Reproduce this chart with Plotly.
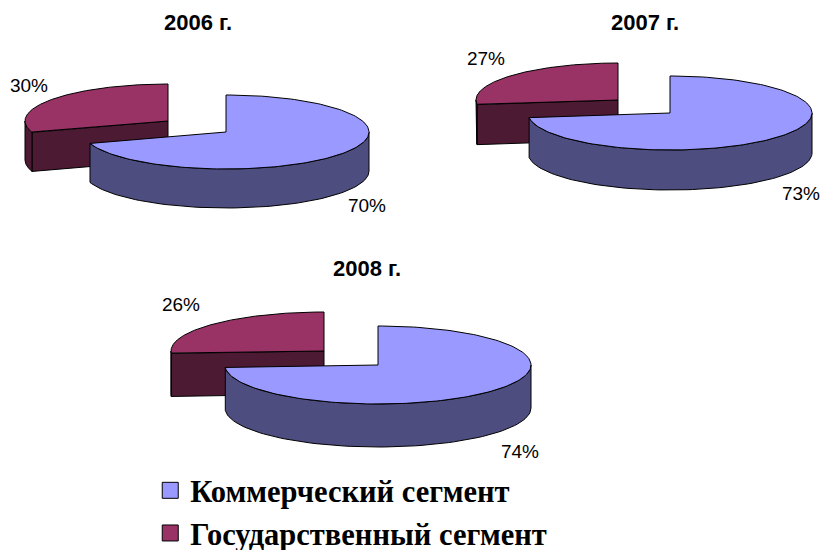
import numpy as np
import plotly.graph_objects as go

YEARS = ["2006 г.", "2007 г.", "2008 г."]
SEGMENTS = ["Коммерческий сегмент", "Государственный сегмент"]
COMMERCIAL = [70, 73, 74]
STATE = [30, 27, 26]

# Layout of the three drawings (pixels on the page-sized axes)
BLUE_CENTER = [(226, 132), (670, 113), (378, 365)]
RED_CENTER = [(168, 121), (618, 100), (324, 351)]
RADII = [(143, 37), (142, 37), (153, 39)]
DEPTH = [39, 40, 43]
TITLE_POS = [(198, 24), (645, 24), (367, 270)]
BLUE_LABEL = [(367, 207), (801, 195), (520, 453)]
RED_LABEL = [(29, 87), (486, 60), (181, 306)]
CANVAS_H = 600  # taller than the window so the legend's padding has room below the fold

BLUE, BLUE_SIDE = "#9999FF", "#4D4D80"
RED, RED_SIDE = "#993366", "#4D1A33"
SANS = "Liberation Sans, Arial, sans-serif"
SERIF = "Liberation Serif, Times New Roman, serif"

fig = go.Figure()


def ell(c, r, deg):
    t = np.radians(deg)
    return c[0] + r[0] * np.sin(t), c[1] - r[1] * np.cos(t)


def poly(xs, ys, color):
    xs, ys = list(xs), list(ys)
    fig.add_trace(go.Scatter(
        x=xs + xs[:1], y=ys + ys[:1], mode="lines", fill="toself", fillcolor=color,
        line=dict(color="black", width=1), showlegend=False, hoverinfo="skip"))


def outer(c, r, d, a, b, color):
    t = np.linspace(a, b, 80)
    x, y = ell(c, r, t)
    poly(np.r_[x, x[::-1]], np.r_[y, y[::-1] + d], color)


def sector(c, r, a, b, color):
    t = np.linspace(a, b, 160)
    x, y = ell(c, r, t)
    poly(np.r_[c[0], x], np.r_[c[1], y], color)


for i in range(3):
    # state slice, runs anticlockwise from 12 o'clock
    c, r, d = RED_CENTER[i], RADII[i], DEPTH[i]
    a = 360 - STATE[i] * 3.6
    ex, ey = ell(c, r, a)
    poly([c[0], ex, ex, c[0]], [c[1], ey, ey + d, c[1] + d], RED_SIDE)
    if a < 270:
        outer(c, r, d, a, 270, RED_SIDE)
    sector(c, r, a, 360, RED)

    # commercial slice, runs clockwise from 12 o'clock
    c = BLUE_CENTER[i]
    b = COMMERCIAL[i] * 3.6
    outer(c, r, d, 90, b, BLUE_SIDE)
    sector(c, r, 0, b, BLUE)

# real legend entries
for name, color in zip(SEGMENTS, [BLUE, RED]):
    fig.add_trace(go.Scatter(
        x=[None], y=[None], mode="markers", name=name, legendgroup=name,
        marker=dict(symbol="square", size=18, color=color, line=dict(color="black", width=1))))

# text labels
label_x = [p[0] for p in BLUE_LABEL + RED_LABEL]
label_y = [p[1] for p in BLUE_LABEL + RED_LABEL]
label_t = [f"{v}%" for v in COMMERCIAL + STATE]
fig.add_trace(go.Scatter(x=label_x, y=label_y, text=label_t, mode="text",
                         textposition="middle center", showlegend=False, hoverinfo="skip",
                         textfont=dict(family=SANS, size=19, color="black")))
fig.add_trace(go.Scatter(x=[p[0] for p in TITLE_POS], y=[p[1] for p in TITLE_POS],
                         text=[f"<b>{y}</b>" for y in YEARS], mode="text",
                         textposition="middle center", showlegend=False, hoverinfo="skip",
                         textfont=dict(family=SANS, size=22, color="black")))

fig.update_layout(
    width=821, height=CANVAS_H, margin=dict(l=0, r=0, t=0, b=0),
    paper_bgcolor="white", plot_bgcolor="white",
    xaxis=dict(range=[0, 821], visible=False, fixedrange=True),
    yaxis=dict(range=[CANVAS_H, 0], visible=False, fixedrange=True),
    legend=dict(x=0.183, y=1 - 464 / CANVAS_H, xanchor="left", yanchor="top",
                bgcolor="rgba(0,0,0,0)", tracegroupgap=0, itemwidth=30,
                font=dict(family=SERIF, size=30.5, color="black", weight="bold")),
)
fig.write_html("out.html", config={"displayModeBar": False},
               post_script="document.body.style.margin='0';document.body.style.overflow='hidden';document.documentElement.style.overflow='hidden';")
